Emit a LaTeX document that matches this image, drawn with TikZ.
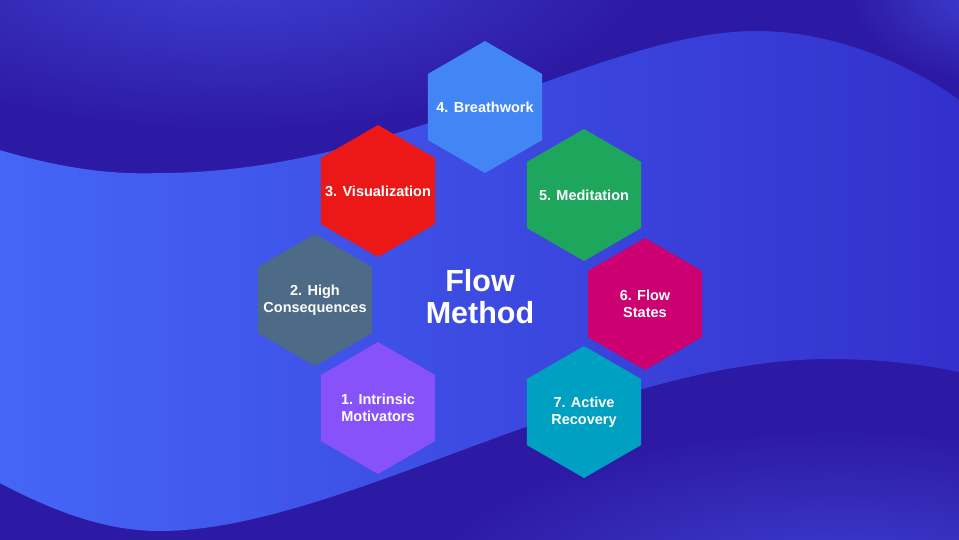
\documentclass[tikz,border=0pt]{standalone}
\usepackage{fontspec}
\setmainfont{Liberation Sans}
\usepackage{tikz}
\usetikzlibrary{shapes.geometric}
\definecolor{deep}{HTML}{2D1AA4}
\definecolor{glow}{HTML}{3E42D6}
\definecolor{waveleft}{HTML}{4566F7}
\definecolor{waveright}{HTML}{3330CC}
\definecolor{skyblue}{HTML}{4286F5}
\definecolor{alarm}{HTML}{EC1818}
\definecolor{leaf}{HTML}{1EA65C}
\definecolor{slategrey}{HTML}{4D6A86}
\definecolor{berry}{HTML}{CC0070}
\definecolor{violet}{HTML}{8752FA}
\definecolor{lagoon}{HTML}{00A0C2}
\tikzset{
  hexbox/.style={regular polygon, regular polygon sides=6, shape border rotate=30,
                 minimum size=132pt, inner sep=0pt, draw=none},
  hextext/.style={align=center, text=white, inner sep=0pt,
                  font=\fontsize{14.5}{17}\selectfont\bfseries},
  titlelbl/.style={align=center, text=white, font=\fontsize{30.5}{32}\selectfont\bfseries}
}

\begin{document}
\begin{tikzpicture}[x=1pt, y=-1pt]
\useasboundingbox (0,0) rectangle (959,539);
% background
\begin{scope}
  \clip (-4,-4) rectangle (963,543);
  \fill[deep] (-4,-4) rectangle (963,543);
  \shade[inner color=glow, outer color=deep] (230,-40) ellipse (420 and 170);
  \shade[inner color=glow, outer color=deep] (990,-10) ellipse (140 and 90);
  \shade[inner color=glow, outer color=deep] (840,600) ellipse (420 and 170);
  \shade[left color=waveleft, right color=waveright]
    (-4,149) .. controls (60,168) and (110,175) .. (160,173)
    .. controls (400,173) and (600,31) .. (757,31)
    .. controls (840,31) and (920,70) .. (963,103)
    -- (963,373) .. controls (930,365) and (880,359) .. (830,359)
    .. controls (600,359) and (340,531) .. (160,531)
    .. controls (110,531) and (60,515) .. (-4,481) -- cycle;
\end{scope}
% hexagons
\node[hexbox, fill=violet, label={[hextext]center:1. Intrinsic\\Motivators}] (intrinsic) at (378,408) {};
\node[hexbox, fill=slategrey, label={[hextext]center:2. High\\Consequences}] (stakes) at (315,300) {};
\node[hexbox, fill=alarm, label={[hextext]center:3. Visualization}] (visual) at (378,191) {};
\node[hexbox, fill=skyblue, label={[hextext]center:4. Breathwork}] (breath) at (485,107) {};
\node[hexbox, fill=leaf, label={[hextext]center:5. Meditation}] (medit) at (584,195) {};
\node[hexbox, fill=berry, label={[hextext]center:6. Flow\\States}] (states) at (645,304) {};
\node[hexbox, fill=lagoon, label={[hextext]center:7. Active\\Recovery}] (recovery) at (584,412) {};
\node[titlelbl] (title) at (480,297) {Flow\\Method};
\end{tikzpicture}
\end{document}
